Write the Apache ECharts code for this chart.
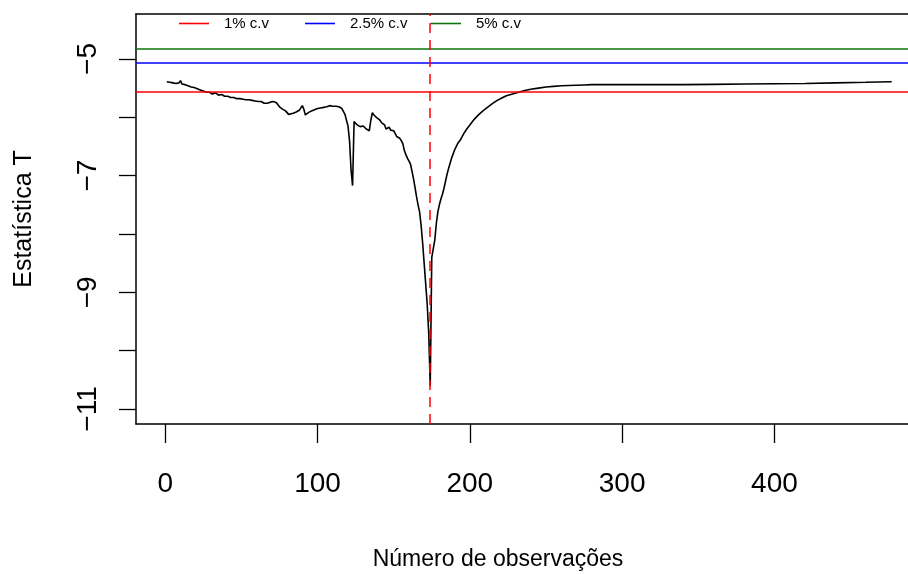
<!DOCTYPE html>
<html>
<head>
<meta charset="utf-8">
<script src="https://cdn.jsdelivr.net/npm/echarts@6/dist/echarts.min.js"></script>
<style>
html,body{margin:0;padding:0;background:#fff;}
#chart{width:908px;height:574px;}
</style>
</head>
<body>
<div id="chart"></div>
<script>
// ---- data ----
const obsX = [1,3,5,7,9,10,11,13,15,17,19,21,23,25,27,29,31,33,35,37,39,41,43,45,47,49,51,53,55,57,59,61,63,65,67,69,71,73,75,77,79,81,82,84,86,88,90,91,92,94,96,98,100,102,104,106,108,110,112,114,116,118,120,121,122,123,124,125,126,127,128,130,132,134,135,136,137,138,139,140,141,142,143,144,145,146,147,148,149,150,151,152,153,154,155,156,157,158,159,160,161,162,163,164,165,166,167,168,169,170,171,172,173,174,175,176,177,178,179,180,181,182,183,184,185,186,187,188,190,192,194,196,198,200,203,206,209,212,215,218,221,224,228,232,236,240,245,250,255,260,265,270,275,280,290,300,320,340,360,380,400,420,440,460,477];
const tStat = [-5.39,-5.40,-5.41,-5.42,-5.41,-5.37,-5.43,-5.44,-5.46,-5.48,-5.49,-5.51,-5.53,-5.55,-5.57,-5.57,-5.60,-5.58,-5.62,-5.61,-5.64,-5.64,-5.66,-5.66,-5.68,-5.68,-5.69,-5.70,-5.70,-5.71,-5.72,-5.73,-5.73,-5.76,-5.76,-5.74,-5.73,-5.75,-5.82,-5.86,-5.89,-5.95,-5.98,-5.93,-5.91,-5.88,-5.80,-5.86,-5.96,-5.92,-5.89,-5.87,-5.85,-5.84,-5.83,-5.82,-5.80,-5.81,-5.81,-5.82,-5.85,-5.95,-6.15,-6.40,-6.90,-7.17,-6.07,-6.10,-6.13,-6.12,-6.16,-6.15,-6.20,-6.23,-6.05,-5.92,-5.96,-5.98,-6.01,-6.03,-6.05,-6.09,-6.10,-6.13,-6.20,-6.22,-6.17,-6.22,-6.19,-6.23,-6.28,-6.33,-6.31,-6.36,-6.40,-6.45,-6.57,-6.64,-6.70,-6.73,-6.80,-6.92,-7.05,-7.20,-7.36,-7.50,-7.62,-7.85,-8.15,-8.50,-8.85,-9.20,-9.70,-10.60,-8.40,-8.42,-8.10,-7.82,-7.62,-7.50,-7.40,-7.32,-7.22,-7.10,-6.98,-6.88,-6.79,-6.70,-6.56,-6.45,-6.38,-6.28,-6.20,-6.13,-6.03,-5.95,-5.88,-5.82,-5.76,-5.71,-5.67,-5.63,-5.60,-5.57,-5.54,-5.52,-5.50,-5.48,-5.47,-5.46,-5.455,-5.45,-5.445,-5.44,-5.44,-5.44,-5.44,-5.44,-5.435,-5.43,-5.425,-5.42,-5.41,-5.40,-5.39];
const cvNames = ['1% c.v', '2.5% c.v', '5% c.v'];
const cvValues = [-5.565, -5.074, -4.817];
const breakPoint = 174;
const xTickValues = [0, 100, 200, 300, 400];
const yTickValues = [-11, -10, -9, -8, -7, -6, -5];
const yLabelValues = [-11, -9, -7, -5];
const xTitle = 'Número de observações';
const yTitle = 'Estatística T';

// ---- styles ----
const cvColors = ['#ff0000', '#0000ff', '#0b730b'];
const FONT = '"Liberation Sans", Arial, Helvetica, sans-serif';
const AXIS_W = 1.5;

const chart = echarts.init(document.getElementById('chart'), null, {renderer: 'canvas'});

const seriesData = obsX.map((x, i) => [x, tStat[i]]);
const legendLefts = [179, 305, 431];

const cvSeries = cvNames.map((name, i) => ({
  name: name,
  type: 'line',
  data: [],
  symbol: 'none',
  z: 5,
  color: cvColors[i],
  lineStyle: {color: cvColors[i], width: 1.6},
  markLine: {
    silent: true,
    symbol: ['none', 'none'],
    label: {show: false},
    animation: false,
    lineStyle: {color: cvColors[i], width: 1.6, type: 'solid'},
    data: [{yAxis: cvValues[i]}]
  }
}));

const xMin = -19.2, xMax = 487.7;

const option = {
  animation: false,
  backgroundColor: '#ffffff',
  textStyle: {fontFamily: FONT},
  grid: {left: 136, top: 14, width: 772, height: 410, show: false, outerBoundsMode: 'none', containLabel: false},
  legend: cvNames.map((name, i) => ({
    data: [name],
    left: legendLefts[i],
    top: 16,
    padding: 0,
    icon: 'rect',
    itemWidth: 30,
    itemHeight: 1.6,
    selectedMode: false,
    textStyle: {fontFamily: FONT, fontSize: 15, color: '#000', padding: [0, 0, 0, 10], lineHeight: 15}
  })),
  xAxis: [{
    type: 'value',
    min: xMin,
    max: xMax,
    position: 'bottom',
    name: xTitle,
    nameLocation: 'middle',
    nameGap: 124,
    nameTextStyle: {fontFamily: FONT, fontSize: 23, color: '#000', padding: [0, 48, 0, 0]},
    axisLine: {show: true, onZero: false, lineStyle: {color: '#000', width: AXIS_W}},
    axisTick: {show: true, inside: false, length: 19, customValues: xTickValues, lineStyle: {color: '#000', width: 1.3}},
    axisLabel: {show: true, customValues: xTickValues, margin: 46, fontFamily: FONT, fontSize: 28, color: '#000'},
    splitLine: {show: false}
  }, {
    type: 'value',
    min: xMin,
    max: xMax,
    position: 'top',
    axisLine: {show: true, onZero: false, lineStyle: {color: '#000', width: AXIS_W}},
    axisTick: {show: false},
    axisLabel: {show: false},
    splitLine: {show: false}
  }],
  yAxis: {
    type: 'value',
    min: -11.257,
    max: -4.229,
    name: yTitle,
    nameLocation: 'middle',
    nameRotate: 90,
    nameGap: 99,
    nameTextStyle: {fontFamily: FONT, fontSize: 25, color: '#000'},
    axisLine: {show: true, onZero: false, lineStyle: {color: '#000', width: AXIS_W}},
    axisTick: {show: true, inside: false, length: 17, customValues: yTickValues, lineStyle: {color: '#000', width: 1.3}},
    axisLabel: {
      show: true, customValues: yLabelValues, rotate: 90, margin: 34,
      fontFamily: FONT, fontSize: 28, color: '#000',
      formatter: v => String(v).replace('-', '\u2212')
    },
    splitLine: {show: false}
  },
  series: [
    {
      name: 'T',
      type: 'line',
      data: seriesData,
      symbol: 'none',
      z: 2,
      lineStyle: {color: '#000', width: 1.6},
      markLine: {
        silent: true,
        symbol: ['none', 'none'],
        label: {show: false},
        animation: false,
        z: 6,
        lineStyle: {color: '#ff0000', width: 1.5, type: [10, 7]},
        data: [{xAxis: breakPoint}]
      }
    }
  ].concat(cvSeries)
};

chart.setOption(option);
</script>
</body>
</html>
